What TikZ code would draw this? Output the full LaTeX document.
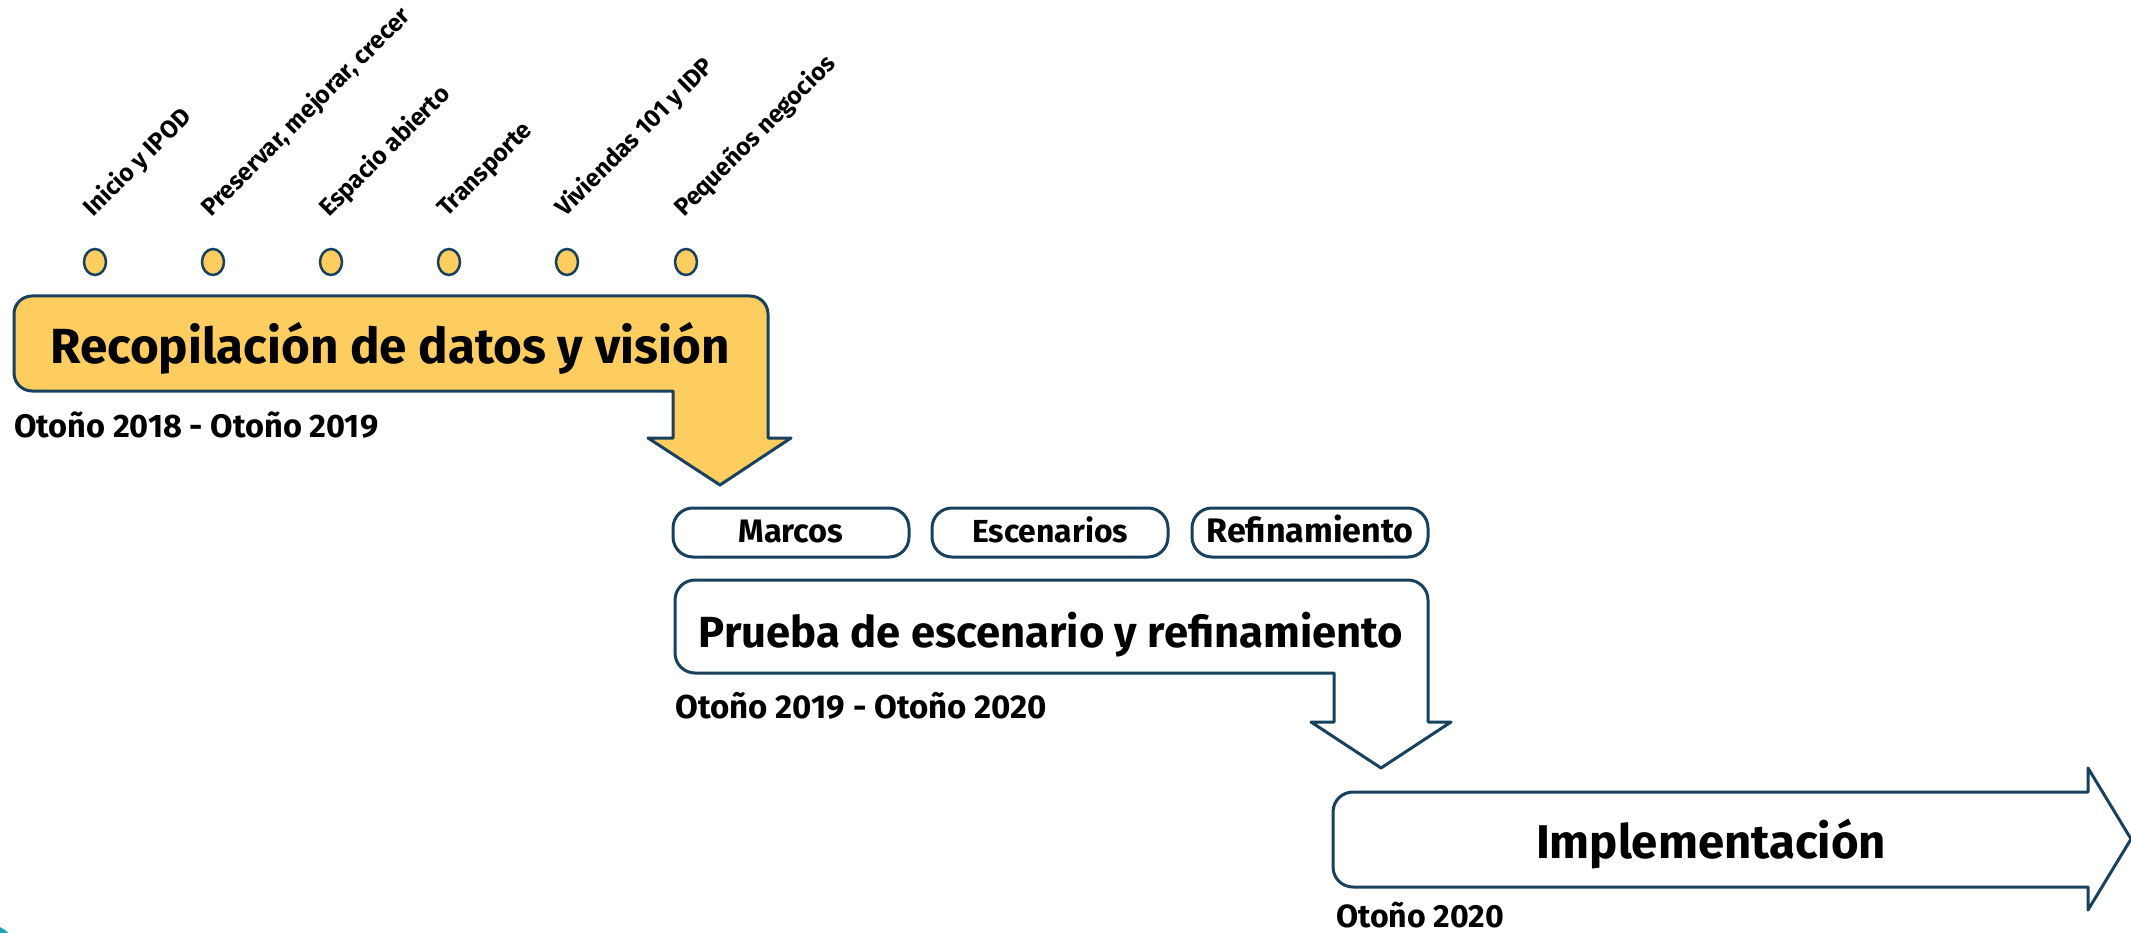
\documentclass[tikz,border=0pt]{standalone}
\usepackage{fontspec}
\setmainfont{Fira Sans}
\usepackage{graphicx}
\definecolor{navy}{HTML}{17415E}
\definecolor{sun}{HTML}{FDCE5F}
\definecolor{tealc}{HTML}{19A8B8}
\newcommand{\fw}[2]{\resizebox{#1pt}{!}{#2}}
\tikzset{
  outline/.style={draw=navy, line width=3pt, line join=round},
  dot/.style={ellipse, draw=navy, fill=sun, line width=2.5pt, minimum width=22pt, minimum height=26pt, inner sep=0pt},
  pill/.style={draw=navy, line width=3pt, rounded corners=20pt, minimum width=236pt, minimum height=49pt, inner sep=0pt},
  lbl/.style={font=\bfseries\fontsize{24.5}{24.5}\selectfont, rotate=45, anchor=south west, inner sep=0pt},
  txt/.style={font=\bfseries\fontsize{30}{30}\selectfont, inner sep=0pt},
}
\usetikzlibrary{shapes.geometric}
\begin{document}
\begin{tikzpicture}[x=1pt, y=-1pt]
\useasboundingbox (0,0) rectangle (2131,933);
% teal corner circle
\begin{scope}
\clip (0,0) rectangle (2131,933);
\fill[tealc] (-10,950) circle (25);
\end{scope}

% stage 1 arrow box
\draw[outline, fill=sun] (400,391) [rounded corners=18] -- (14,391) -- (14,296) -- (768,296) -- (768,380) [sharp corners] -- (768,438) -- (791,438) -- (720,485) -- (648,438) -- (673,438) -- (673,391) -- cycle;
\node[txt, anchor=base] (t1) at (390,363) {\fw{679}{Recopilación de datos y visión}};
\node[txt, anchor=base west] (d1) at (14,437) {\fw{364}{Otoño 2018 - Otoño 2019}};

% dots and labels
\foreach \x/\name/\w in {95/a/Inicio y IPOD, 213/b/{Preservar, mejorar, crecer}, 331/c/Espacio abierto, 449/d/Transporte, 567/e/Viviendas 101 y IDP, 686/f/Pequeños negocios}{
  \node[dot] (dot\name) at (\x,262) {};
  \node[lbl] (lab\name) at (\x+2,222) {\w};
}

% pills
\node[pill] (p1) at (791,532.5) {};
\node[pill] (p2) at (1050,532.5) {};
\node[pill] (p3) at (1310,532.5) {};
\node[txt, anchor=base] (pt1) at (791,542) {\fw{105}{Marcos}};
\node[txt, anchor=base] (pt2) at (1050,542) {\fw{156}{Escenarios}};
\node[txt, anchor=base] (pt3) at (1310,542) {\fw{207}{Refinamiento}};

% stage 2 arrow box
\draw[outline, fill=white] (1000,673) [rounded corners=20] -- (675,673) -- (675,580) -- (1428,580) -- (1428,660) [sharp corners] -- (1428,722) -- (1451,722) -- (1381,768) -- (1311,722) -- (1334,722) -- (1334,673) -- cycle;
\node[txt, anchor=base] (t2) at (1051,647) {\fw{704}{Prueba de escenario y refinamiento}};
\node[txt, anchor=base west] (d2) at (675,718) {\fw{372}{Otoño 2019 - Otoño 2020}};

% stage 3 arrow
\draw[outline, fill=white] (1700,887) [rounded corners=20] -- (1333,887) -- (1333,792) -- (1700,792) [sharp corners] -- (2088,792) -- (2088,768) -- (2131,839) -- (2088,910) -- (2088,887) -- cycle;
\node[txt, anchor=base] (t3) at (1711,858) {\fw{350}{Implementación}};
\node[txt, anchor=base west] (d3) at (1336,927) {\fw{168}{Otoño 2020}};
\end{tikzpicture}
\end{document}
